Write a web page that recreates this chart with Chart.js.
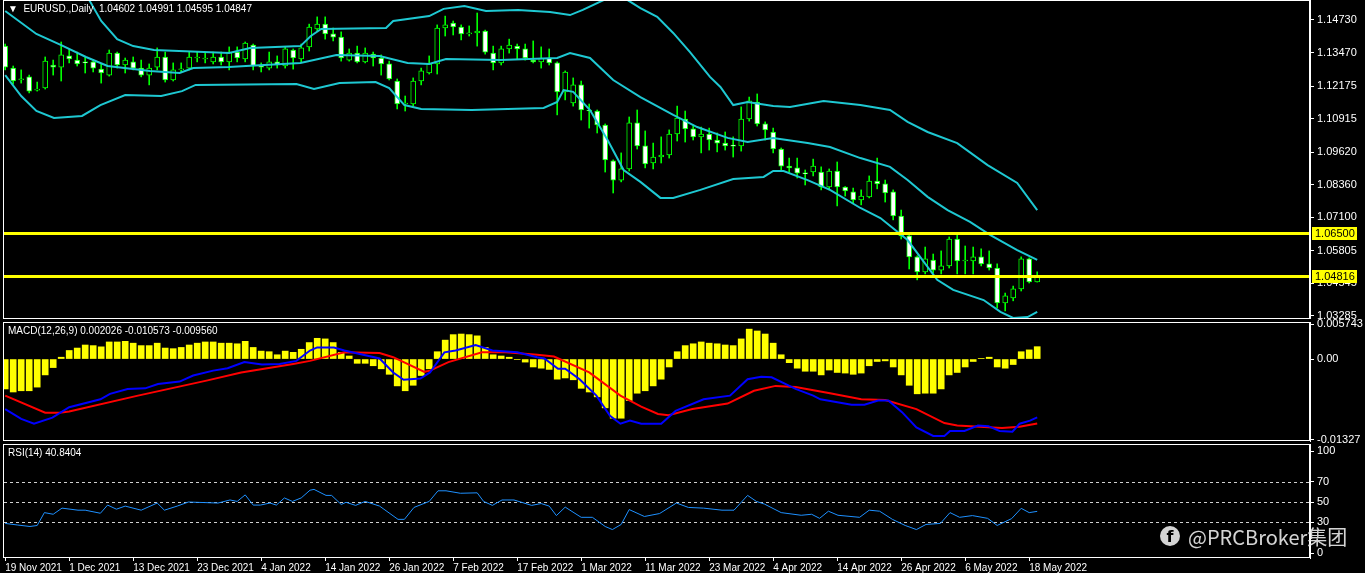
<!DOCTYPE html>
<html>
<head>
<meta charset="utf-8">
<script src="https://cdn.jsdelivr.net/npm/chart.js@4.4.1/dist/chart.umd.min.js"></script>
<style>
  html, body { margin: 0; padding: 0; background: #000; }
  #wrap { position: relative; width: 1365px; height: 573px; background: #000; overflow: hidden; }
  canvas { position: absolute; left: 0; }
  #wm { position: absolute; left: 1160px; top: 522px; height: 28px; display: flex; align-items: center;
        font-family: "Noto Sans CJK SC", "Noto Sans", sans-serif; font-size: 20px; color: rgba(235,235,235,0.9); }
  #wm .fb { width: 20px; height: 20px; border-radius: 50%; background: rgba(235,235,235,0.9); color: #000;
        font: bold 16px "DejaVu Sans", sans-serif; display: flex; align-items: flex-end; justify-content: center;
        margin-right: 8px; overflow: hidden; }
</style>
</head>
<body>
<div id="wrap">
  <canvas id="price" width="1365" height="319" style="top:0"></canvas>
  <canvas id="macd" width="1365" height="139" style="top:312px"></canvas>
  <canvas id="rsi" width="1365" height="129" style="top:444px"></canvas>
  <div id="wm"><span class="fb">f</span>@PRCBroker集团</div>
</div>
<script>
// EURUSD daily, 19 Nov 2021 .. 19 May 2022 (130 bars)
const opens = [
  1.1372,1.1287,1.1241,1.1253,1.1202,1.1210,1.1299,1.1291,1.1334,1.1318,
  1.1311,1.1311,1.1283,1.1260,1.1345,1.1299,1.1311,1.1287,1.1260,1.1291,
  1.1330,1.1241,1.1280,1.1287,1.1326,1.1322,1.1311,1.1330,1.1311,1.1349,
  1.1322,1.1376,1.1295,1.1287,1.1311,1.1295,1.1357,1.1322,1.1369,1.1438,
  1.1457,1.1419,1.1407,1.1318,1.1345,1.1311,1.1341,1.1326,1.1303,1.1237,
  1.1148,1.1148,1.1237,1.1268,1.1303,1.1442,1.1461,1.1446,1.1419,1.1423,
  1.1430,1.1345,1.1307,1.1361,1.1372,1.1361,1.1318,1.1311,1.1326,1.1307,
  1.1195,1.1152,1.1222,1.1125,1.1121,1.1067,1.0928,1.0854,1.0897,1.1075,
  1.0986,1.0920,1.0943,1.0951,1.1032,1.1090,1.1052,1.1021,1.1032,1.1009,
  1.0997,1.0986,1.0986,1.1090,1.1156,1.1071,1.1040,1.0974,1.0908,1.0901,
  1.0881,1.0885,1.0885,1.0827,1.0889,1.0827,1.0808,1.0777,1.0789,1.0850,
  1.0839,1.0808,1.0715,1.0638,1.0557,1.0499,1.0545,1.0506,1.0522,1.0626,
  1.0541,1.0541,1.0557,1.0530,1.0514,1.0379,1.0398,1.0433,1.0549,1.04602,
];
const highs = [
  1.1380,1.1295,1.1280,1.1260,1.1233,1.1330,1.1318,1.1388,1.1361,1.1349,
  1.1330,1.1318,1.1303,1.1357,1.1349,1.1326,1.1330,1.1318,1.1303,1.1365,
  1.1349,1.1307,1.1307,1.1349,1.1349,1.1345,1.1349,1.1349,1.1369,1.1369,
  1.1388,1.1380,1.1307,1.1349,1.1334,1.1369,1.1361,1.1380,1.1457,1.1485,
  1.1485,1.1442,1.1427,1.1361,1.1372,1.1365,1.1349,1.1338,1.1314,1.1245,
  1.1179,1.1249,1.1287,1.1334,1.1454,1.1488,1.1469,1.1454,1.1450,1.1500,
  1.1434,1.1372,1.1372,1.1399,1.1380,1.1380,1.1392,1.1369,1.1361,1.1311,
  1.1276,1.1249,1.1237,1.1148,1.1125,1.1071,1.0932,1.0959,1.1098,1.1125,
  1.1044,1.0997,1.1021,1.1048,1.1140,1.1121,1.1067,1.1059,1.1055,1.1036,
  1.1040,1.1021,1.1137,1.1175,1.1187,1.1079,1.1055,1.0978,1.0939,1.0939,
  1.0893,1.0935,1.0905,1.0897,1.0924,1.0829,1.0823,1.0816,1.0870,1.0939,
  1.0854,1.0816,1.0738,1.0646,1.0561,1.0595,1.0568,1.0580,1.0634,1.0642,
  1.0599,1.0595,1.0588,1.0580,1.0530,1.0417,1.0444,1.0557,1.0553,1.04991,
];
const lows = [
  1.1280,1.1225,1.1229,1.1191,1.1198,1.1206,1.1260,1.1237,1.1307,1.1295,
  1.1268,1.1272,1.1229,1.1256,1.1287,1.1268,1.1280,1.1253,1.1222,1.1280,
  1.1233,1.1237,1.1272,1.1280,1.1311,1.1307,1.1303,1.1299,1.1280,1.1311,
  1.1311,1.1280,1.1272,1.1280,1.1287,1.1287,1.1283,1.1311,1.1353,1.1430,
  1.1399,1.1392,1.1314,1.1314,1.1307,1.1307,1.1295,1.1260,1.1241,1.1129,
  1.1121,1.1140,1.1222,1.1264,1.1264,1.1411,1.1415,1.1396,1.1411,1.1372,
  1.1341,1.1280,1.1299,1.1345,1.1322,1.1318,1.1307,1.1287,1.1299,1.1106,
  1.1164,1.1140,1.1086,1.1055,1.1036,1.0885,1.0804,1.0847,1.0889,1.0974,
  1.0901,1.0897,1.0920,1.0939,1.1005,1.1001,1.1009,1.0959,1.0970,1.0963,
  1.0970,1.0943,1.0966,1.1082,1.1063,1.1009,1.0959,1.0889,1.0885,1.0862,
  1.0835,1.0870,1.0816,1.0816,1.0754,1.0792,1.0765,1.0758,1.0785,1.0820,
  1.0769,1.0700,1.0626,1.0510,1.0468,1.0491,1.0495,1.0491,1.0514,1.0491,
  1.0491,1.0491,1.0522,1.0506,1.0359,1.0348,1.0387,1.0425,1.0456,1.04595,
];
const closes = [
  1.1291,1.1237,1.1245,1.1198,1.1206,1.1314,1.1291,1.1338,1.1322,1.1303,
  1.1307,1.1287,1.1268,1.1345,1.1299,1.1318,1.1287,1.1260,1.1287,1.1330,
  1.1241,1.1280,1.1283,1.1330,1.1327,1.1326,1.1330,1.1311,1.1349,1.1326,
  1.1384,1.1295,1.1291,1.1311,1.1299,1.1361,1.1326,1.1365,1.1446,1.1457,
  1.1419,1.1407,1.1326,1.1345,1.1311,1.1345,1.1326,1.1303,1.1245,1.1148,
  1.1152,1.1237,1.1276,1.1303,1.1442,1.1454,1.1446,1.1419,1.1423,1.1430,
  1.1349,1.1307,1.1361,1.1376,1.1361,1.1326,1.1311,1.1326,1.1307,1.1195,
  1.1272,1.1222,1.1125,1.1121,1.1067,1.0932,1.0854,1.0897,1.1075,1.0986,
  1.0916,1.0943,1.0951,1.1032,1.1094,1.1052,1.1021,1.1032,1.1009,1.0997,
  1.0986,1.0985,1.1090,1.1160,1.1071,1.1048,1.0974,1.0908,1.0901,1.0881,
  1.0878,1.0908,1.0827,1.0889,1.0827,1.0812,1.0777,1.0792,1.0850,1.0839,
  1.0804,1.0715,1.0638,1.0557,1.0499,1.0549,1.0506,1.0522,1.0626,1.0541,
  1.0545,1.0557,1.0530,1.0514,1.0379,1.0406,1.0433,1.0549,1.0460,1.04847,
];

// Bollinger bands (bar index, price)
const upperX = [0,8,10.5,12,14,16,18.6,28,30.6,36.9,38.2,39.5,47.6,48.5,53,54.8,57.4,60.1,64.1,68.1,70.6,72.2,74.8,76.3,77.8,79.4,81.5,83.5,85.6,88.1,89.4,91,92.8,96,98.1,102.3,106.9,110.6,112.8,115.3,119,122.8,126.5,129];
const upperY = [1.1666,1.1589,1.1550,1.1469,1.1399,1.1372,1.1357,1.1345,1.1365,1.1372,1.1411,1.1438,1.1442,1.1469,1.1488,1.1516,1.1527,1.1508,1.1512,1.1504,1.1492,1.1512,1.1550,1.1581,1.1550,1.1519,1.1485,1.1423,1.1349,1.1253,1.1214,1.1144,1.1156,1.1140,1.1137,1.1160,1.1144,1.1125,1.1079,1.1040,1.0997,1.0912,1.0843,1.0738];
const midX = [0,3.9,7,10.1,12.8,18.1,21.8,23.5,28,30.1,36.9,41.4,46.8,50.3,53,55.1,61.9,69,70.6,73.1,76,79.4,83.5,86.5,90.3,92.8,96,100.3,103.1,106.9,110.6,112.8,115.3,117.8,120.6,123.1,126.5,129];
const midY = [1.1508,1.1419,1.1376,1.1330,1.1295,1.1276,1.1268,1.1287,1.1291,1.1295,1.1307,1.1338,1.1334,1.1307,1.1303,1.1322,1.1318,1.1326,1.1345,1.1326,1.1241,1.1175,1.1106,1.1059,1.1017,1.1001,1.1017,1.0997,1.0982,1.0939,1.0905,1.0854,1.0789,1.0738,1.0692,1.0642,1.0583,1.0545];
const lowX = [0,2,3.9,6.1,9.6,11.9,15,19.5,22.1,23.8,36.4,38.6,41.8,46.3,48,49.9,52,58.3,67.3,69,69.8,71,73.1,75.3,77.3,79.4,81.9,83.5,86.9,91,94.8,96,97.3,100.3,103.1,106.9,109.4,112.8,116.5,118.5,122.3,124.4,126,127.8,129];
const lowY = [1.1260,1.1179,1.1121,1.1094,1.1102,1.1144,1.1183,1.1179,1.1198,1.1222,1.1225,1.1206,1.1229,1.1233,1.1210,1.1144,1.1129,1.1125,1.1133,1.1156,1.1202,1.1195,1.1125,1.1009,1.0893,1.0847,1.0785,1.0785,1.0816,1.0858,1.0866,1.0889,1.0889,1.0854,1.0816,1.0746,1.0707,1.0622,1.0468,1.0429,1.0390,1.0344,1.0321,1.0324,1.0344];

const levels = [1.06500, 1.04816];
const priceTicks = [1.14730,1.13470,1.12175,1.10915,1.09620,1.08360,1.07100,1.05805,1.04545,1.03285];

// MACD(12,26,9)
const macdHist = [
  -0.0049,-0.0054,-0.0052,-0.0052,-0.0046,-0.0026,-0.0014,0.0003,0.0014,0.0018,
  0.0023,0.0022,0.0020,0.0028,0.0028,0.0029,0.0026,0.0022,0.0022,0.0026,
  0.0018,0.0017,0.0019,0.0023,0.0026,0.0028,0.0028,0.0026,0.0026,0.0025,
  0.0029,0.0019,0.0013,0.0012,0.0007,0.0013,0.0011,0.0016,0.0027,0.0034,
  0.0033,0.0027,0.0011,0.0005,-0.0007,-0.0007,-0.0011,-0.0016,-0.0025,-0.0044,
  -0.0052,-0.0043,-0.0027,-0.0016,0.0012,0.0031,0.0040,0.0041,0.0040,0.0038,
  0.0019,0.0007,0.0005,0.0003,-0.0001,-0.0005,-0.0013,-0.0015,-0.0017,-0.0033,
  -0.0031,-0.0034,-0.0048,-0.0054,-0.0062,-0.0080,-0.0097,-0.0097,-0.0068,-0.0056,
  -0.0052,-0.0044,-0.0033,-0.0013,0.0012,0.0022,0.0025,0.0028,0.0026,0.0025,
  0.0023,0.0022,0.0033,0.0049,0.0046,0.0041,0.0026,0.0007,-0.0006,-0.0015,
  -0.0020,-0.0020,-0.0026,-0.0018,-0.0022,-0.0023,-0.0025,-0.0023,-0.0011,-0.0004,
  -0.0003,-0.0013,-0.0026,-0.0043,-0.0057,-0.0056,-0.0056,-0.0049,-0.0026,-0.0022,
  -0.0013,-0.0004,0.0001,0.0003,-0.0013,-0.0015,-0.0009,0.0012,0.0015,0.002026,
];
const macdX = [0,2,3.6,5.9,8,11.9,13.1,15.3,17.5,19.1,21.8,23.5,26,27.8,29.9,32.1,34.3,36.4,38.1,39,41.1,42.4,46.8,48.5,49.8,51.9,53.1,54.9,56.3,58.8,60.9,64,66.5,
  67.4,69.1,70,71.8,73.9,75.6,76.9,78.1,79.5,82,83.8,87.3,90.6,92.8,94.5,95.8,98.8,101,101.9,105.8,107.4,109.1,110.4,112.1,113.9,116,117.4,118.1,119.9,121.6,122.9,124.3,125.9,126.8,128.1,129];
const macdY = [-0.0082,-0.0098,-0.0106,-0.0096,-0.0079,-0.0066,-0.0057,-0.0049,-0.0048,-0.0041,-0.0037,-0.0027,-0.0019,-0.0015,-0.0005,-0.0009,-0.0008,-0.0003,0.0014,0.0019,0.0019,0.0014,0.0001,-0.0022,-0.0034,-0.0032,-0.0022,0.0011,0.0014,0.0023,0.0014,0.0011,0.0003,
  0.0001,-0.0016,-0.0016,-0.0033,-0.0060,-0.0093,-0.0106,-0.0101,-0.0106,-0.0106,-0.0085,-0.0066,-0.0060,-0.0033,-0.0029,-0.0030,-0.0049,-0.0060,-0.0066,-0.0075,-0.0075,-0.0068,-0.0068,-0.0087,-0.0112,-0.0126,-0.0126,-0.0118,-0.0118,-0.0109,-0.0110,-0.0118,-0.0119,-0.0106,-0.0101,-0.009560];
const signalX = [0,5,6.8,8,16.6,25.3,29.5,36,38.1,42.4,46.8,48.5,52.4,53.1,55.4,59.6,62.6,66.5,68.6,73,76.9,79.5,81.6,82.9,85.9,90.3,93.6,96.3,98.8,103.1,107,110,113.9,117.4,119,124.6,126.8,129];
const signalY = [-0.0060,-0.0088,-0.0088,-0.0086,-0.0060,-0.0035,-0.0022,-0.0008,-0.0003,0.0011,0.0010,0.0003,-0.0021,-0.0019,-0.0005,0.0011,0.0011,0.0007,0.0004,-0.0022,-0.0060,-0.0078,-0.0090,-0.0092,-0.0082,-0.0073,-0.0052,-0.0044,-0.0046,-0.0056,-0.0066,-0.0067,-0.0082,-0.0105,-0.0109,-0.0113,-0.0111,-0.010573];
const macdTicks = [0.005743, 0, -0.01327];

// RSI(14)
const rsiX = [0,1.5,3.1,4,4.9,6,7.1,9.1,10,11.9,12.8,13.9,15,17,19,19.9,21.5,22.9,26.6,28.1,29,30,31,31.9,33.1,33.9,34.9,35.9,37,38.1,38.6,40.1,40.8,42,42.6,43.8,45,46.8,49.1,49.9,51.1,53,54.1,55.1,56.9,59,59.8,60.9,62.1,63.6,65.8,67,68,68.9,70,72,73.4,75,75.9,77,78,79.9,81.8,83.9,85.4,87.3,89.6,91.1,92.8,93.9,94.9,97,99.5,100.8,101.8,102.9,104.1,106.8,108,109.3,110.9,112.5,113.9,115.1,116.9,118.1,119.3,120.9,122.8,124,125.8,127,128,129];
const rsiY = [29,27.5,26,27,39.6,38,44,42,42,39,47,43,46,42,49,42,46,50,49,52,50.6,57,47,47,49,47,54,50.6,54,61.6,62.4,56.5,56.5,47.6,49.7,46.7,50.6,46,33,33,44.7,50.6,61,61,58.6,59,50.6,46.7,52,52,46.7,48.5,46,36.7,45,35,35,26,23,28,42.6,35.8,38.7,49,44.7,44,42,42,56.5,50.6,48,39.6,37,38,34,41,37,35,42,41,33,27,23,28,29,39.6,35,36.7,34,27,33.7,43.8,39.6,40.84];
const rsiLevels = [70, 50, 30];
const rsiTicks = [100, 70, 50, 30, 0];

const dateIdx = [0,8,16,24,32,40,48,56,64,72,80,88,96,104,112,120,128];
const dateLabels = ['19 Nov 2021','1 Dec 2021','13 Dec 2021','23 Dec 2021','4 Jan 2022','14 Jan 2022','26 Jan 2022','7 Feb 2022','17 Feb 2022','1 Mar 2022','11 Mar 2022','23 Mar 2022','4 Apr 2022','14 Apr 2022','26 Apr 2022','6 May 2022','18 May 2022'];

const FONT = { family: 'Liberation Sans', size: 11 };
const XFONT = { family: 'Liberation Sans', size: 10 };
const GREEN = '#00ff00';
const BAND = '#1ec8d2';
const X_MIN = -0.15, X_MAX = 163.1;

Chart.defaults.font.family = 'Liberation Sans';
Chart.defaults.color = '#fff';

const pts = (xs, ys) => xs.map((x, i) => ({ x, y: ys[i] }));

function yAxis(min, max, ticks, fmt) {
  return {
    position: 'right', min, max,
    afterBuildTicks: (s) => { s.ticks = ticks.map((v) => ({ value: v })); },
    afterFit: (s) => { s.width = 55; s.paddingTop = 0; s.paddingBottom = 0; },
    ticks: { color: '#fff', font: FONT, padding: 3, callback: fmt },
    grid: { drawOnChartArea: false, color: '#fff', tickLength: 4 },
    border: { display: true, color: '#fff' },
  };
}

const hiddenX = { type: 'linear', min: X_MIN, max: X_MAX, offset: false, display: false };

const BASE_OPTS = {
  responsive: false,
  animation: false,
  devicePixelRatio: 1,
  layout: { padding: { left: 4, right: 0, top: 0, bottom: 0 } },
  plugins: { legend: { display: false }, tooltip: { enabled: false } },
};

// frame + pane title
function panePlugin(title) {
  return {
    id: 'pane',
    afterDraw(chart) {
      const { ctx, chartArea: a } = chart;
      ctx.save();
      ctx.strokeStyle = '#fff';
      ctx.lineWidth = 1;
      ctx.strokeRect(a.left - 0.5, a.top + 0.5, a.right - a.left, a.bottom - a.top - 1);
      ctx.fillStyle = '#fff';
      ctx.font = '10px "Liberation Sans"';
      ctx.textBaseline = 'middle';
      ctx.fillText(title, a.left + 4, a.top + 9);
      ctx.restore();
    },
  };
}

const levelPlugin = {
  id: 'levels',
  afterDatasetsDraw(chart) {
    const { ctx, chartArea: a } = chart;
    const y = chart.scales.y;
    ctx.save();
    levels.forEach((lv) => {
      const py = Math.round(y.getPixelForValue(lv));
      ctx.fillStyle = '#ffff00';
      ctx.fillRect(a.left, py - 1, a.right - a.left, 3);
      ctx.fillRect(a.right + 2, py - 6, 45, 13);
      ctx.fillStyle = '#000';
      ctx.font = '11px "Liberation Sans"';
      ctx.textBaseline = 'middle';
      ctx.fillText(lv.toFixed(5), a.right + 5, py + 1);
    });
    ctx.restore();
  },
};

const rsiLevelPlugin = {
  id: 'rsiLevels',
  beforeDatasetsDraw(chart) {
    const { ctx, chartArea: a } = chart;
    const y = chart.scales.y;
    ctx.save();
    ctx.strokeStyle = '#d0d0d0';
    ctx.lineWidth = 1;
    ctx.setLineDash([3, 3]);
    rsiLevels.forEach((lv) => {
      const py = Math.round(y.getPixelForValue(lv)) + 0.5;
      ctx.beginPath(); ctx.moveTo(a.left, py); ctx.lineTo(a.right, py); ctx.stroke();
    });
    ctx.restore();
  },
};

// price pane
const idx = closes.map((_, i) => i);
new Chart(document.getElementById('price'), {
  type: 'bar',
  data: {
    datasets: [
      {
        type: 'line', data: pts(upperX, upperY), borderColor: BAND, borderWidth: 2,
        pointRadius: 0, order: 0,
      },
      {
        type: 'line', data: pts(midX, midY), borderColor: BAND, borderWidth: 2,
        pointRadius: 0, order: 0,
      },
      {
        type: 'line', data: pts(lowX, lowY), borderColor: BAND, borderWidth: 2,
        pointRadius: 0, order: 0,
      },
      {
        data: idx.map((i) => ({ x: i, y: [opens[i], closes[i]] })),
        backgroundColor: idx.map((i) => (closes[i] < opens[i] ? '#ffffff' : '#000000')),
        borderColor: GREEN, borderWidth: 1, borderSkipped: false,
        barThickness: 5, minBarLength: 1, grouped: false, order: 1,
      },
      {
        data: idx.map((i) => ({ x: i, y: [lows[i], highs[i]] })),
        backgroundColor: GREEN, borderWidth: 0,
        barThickness: 1, grouped: false, order: 2,
      },
    ],
  },
  options: {
    ...BASE_OPTS,
    scales: {
      x: hiddenX,
      y: yAxis(1.03167, 1.15503, priceTicks, (v) => v.toFixed(5)),
    },
  },
  plugins: [panePlugin('\u25BC  EURUSD.,Daily  1.04602 1.04991 1.04595 1.04847'), levelPlugin],
});

// MACD pane (canvas overlaps neighbours by 10px so edge labels are not clipped)
new Chart(document.getElementById('macd'), {
  type: 'bar',
  data: {
    datasets: [
      {
        type: 'line', data: pts(macdX, macdY), borderColor: '#0000ff', borderWidth: 2,
        pointRadius: 0, order: 0,
      },
      {
        type: 'line', data: pts(signalX, signalY), borderColor: '#ff0000', borderWidth: 2,
        pointRadius: 0, order: 0,
      },
      {
        data: idx.map((i) => ({ x: i, y: macdHist[i] })),
        backgroundColor: '#ffff00', borderWidth: 0,
        barThickness: 6, grouped: false, order: 1,
      },
    ],
  },
  options: {
    ...BASE_OPTS,
    layout: { padding: { left: 4, right: 0, top: 10, bottom: 10 } },
    scales: {
      x: hiddenX,
      y: yAxis(-0.013434, 0.006071, macdTicks, (v) => (v === 0 ? '0.00' : v === 0.005743 ? '0.005743' : '-0.01327')),
    },
  },
  plugins: [panePlugin('MACD(12,26,9) 0.002026 -0.010573 -0.009560')],
});

// RSI pane
new Chart(document.getElementById('rsi'), {
  type: 'line',
  data: {
    datasets: [
      { data: pts(rsiX, rsiY), borderColor: '#1e90ff', borderWidth: 1, pointRadius: 0 },
    ],
  },
  options: {
    ...BASE_OPTS,
    scales: {
      x: {
        type: 'linear', min: X_MIN, max: X_MAX, offset: false, position: 'bottom',
        afterBuildTicks: (s) => { s.ticks = dateIdx.map((v) => ({ value: v })); },
        afterFit: (s) => { s.height = 15; s.paddingLeft = 0; s.paddingRight = 0; },
        ticks: {
          color: '#fff', font: XFONT, padding: 1, align: 'start', maxRotation: 0, autoSkip: false,
          callback: (v) => dateLabels[dateIdx.indexOf(v)],
        },
        grid: { drawOnChartArea: false, color: '#fff', tickLength: 3 },
        border: { display: false },
      },
      y: yAxis(-4.9, 106.9, rsiTicks, (v) => String(v)),
    },
  },
  plugins: [panePlugin('RSI(14) 40.8404'), rsiLevelPlugin],
});
</script>
</body>
</html>
